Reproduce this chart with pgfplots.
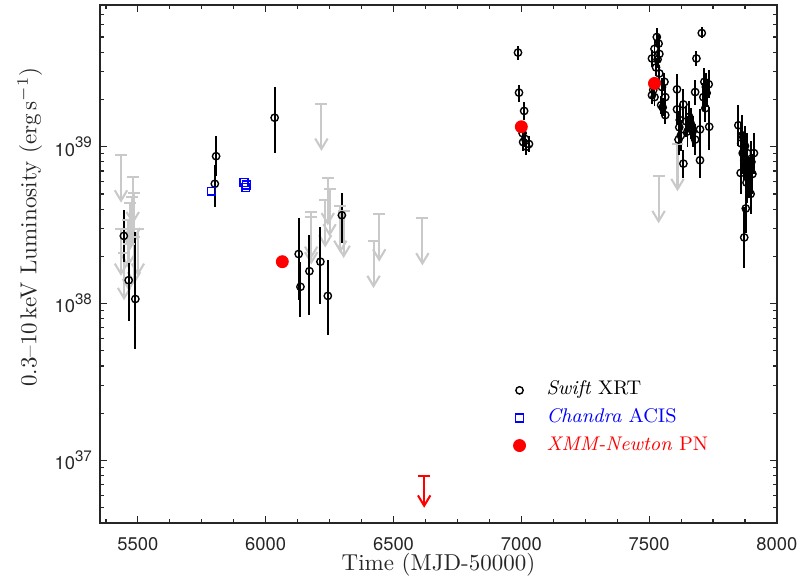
\documentclass[border=0pt]{standalone}
\usepackage{pgfplots}
\pgfplotsset{compat=1.18}
\usepackage{fontspec}
\newfontfamily\ticksf{TeX Gyre Heros}
\usetikzlibrary{arrows.meta}

\definecolor{axgray}{rgb}{0.15,0.15,0.15}
\definecolor{ulgray}{rgb}{0.79,0.79,0.79}

% 10^n in the MATLAB look
\newcommand{\tp}[1]{10\raisebox{3.6pt}{\fontsize{6.6}{7}\selectfont #1}}

\pgfplotsset{
  ulim/.style={forget plot, only marks, mark=-, mark size=2.6pt,
    mark options={#1, line width=0.9pt},
    error bars/.cd, y dir=minus, error mark=none,
    error bar style={#1, line width=0.9pt, -{Straight Barb[length=4.5pt,width=5.4pt]}}},
  legimg/.style={legend image code/.code={
    \path (0cm,0cm) (0.62cm,0cm);
    \draw[##1] plot coordinates {(0.25cm,0cm)};}},
}

\begin{document}
\begin{tikzpicture}
\begin{axis}[
  scale only axis, width=294.3pt, height=225.2pt,
  ymode=log,
  xmin=5352, xmax=8000, ymin=4e36, ymax=8e39,
  axis line style={axgray, line width=0.65pt},
  tick style={axgray, line width=0.5pt},
  tick align=inside,
  major tick length=3pt, minor tick length=1.7pt,
  xtick={5500,6000,6500,7000,7500,8000},
  xticklabels={5500,6000,6500,7000,7500,8000},
  minor xtick={5375,5625,5750,5875,6125,6250,6375,6625,6750,6875,7125,7250,7375,7625,7750,7875},
  ytick={1e37,1e38,1e39},
  yticklabels={\tp{37},\tp{38},\tp{39}},
  minor ytick={5e36,6e36,7e36,8e36,9e36,2e37,3e37,4e37,5e37,6e37,7e37,8e37,9e37,
    2e38,3e38,4e38,5e38,6e38,7e38,8e38,9e38,2e39,3e39,4e39,5e39,6e39,7e39},
  ticklabel style={font=\ticksf\fontsize{8}{9}\selectfont, text=axgray},
  xticklabel style={yshift=-2.8pt},
  xlabel={Time (MJD-50000)},
  ylabel={0.3--10\,keV Luminosity (erg\,s$^{-1}$)},
  label style={text=axgray, inner sep=0pt},
  xlabel style={at={(rel axis cs:0.5,-0.058)}, anchor=north},
  ylabel style={at={(rel axis cs:-0.085,0.571)}, anchor=south},
  legend cell align=left,
  legend style={at={(rel axis cs:0.584,0.288)}, anchor=north west, draw=none, fill=none,
    font=\fontsize{8.6}{10}\selectfont, row sep=2pt,
    nodes={inner sep=1pt, text height=6pt, text depth=2pt}},
]

% Swift upper limits (grey arrows)
\addplot[error bars/y fixed relative=0.5, ulim=ulgray] table {
x y
5434 8.8e38
5480 6.4e38
5485 5.06e38
5476 4.8e38
5470 4.4e38
5461 3.4e38
5434 3.0e38
5500 3.0e38
5485 2.65e38
5465 2.4e38
5446 2.1e38
6218 1.88e39
6243 6.3e38
6250 5.35e38
6233 4.56e38
6178 3.85e38
6178 3.55e38
6292 4.2e38
6305 3.9e38
6444 3.7e38
6422 2.51e38
6613 3.5e38
7611 1.04e39
7537 6.5e38
};

% Swift XRT detections
\addplot[only marks, legimg, mark=o, mark size=1.6pt,
  mark options={line width=0.6pt, draw=black, fill=none},
  error bars/.cd, y dir=both, y explicit, error mark=none,
  error bar style={black, line width=0.85pt}]
  table[x=x, y=y, y error plus=ep, y error minus=em] {
x y ep em
5445 2.70e38 1.25e38 0.86e38
5464 1.41e38 0.41e38 0.64e38
5490 1.07e38 1.78e38 0.56e38
5806 8.70e38 3.0e38 2.2e38
5801 5.80e38 1.8e38 1.7e38
6035 1.53e39 0.87e39 0.62e39
6129 2.07e38 1.43e38 1.02e38
6136 1.28e38 0.56e38 0.46e38
6171 1.61e38 1.12e38 0.77e38
6214 1.85e38 1.22e38 0.86e38
6243 1.12e38 0.77e38 0.49e38
6298 3.66e38 1.40e38 1.23e38
6987 3.98e39 0.39e39 0.39e39
6991 2.21e39 0.26e39 0.28e39
7011 1.69e39 0.24e39 0.21e39
7005 1.22e39 0.15e39 0.13e39
7007 1.07e39 0.15e39 0.13e39
7015 1.12e39 0.14e39 0.12e39
7020 1.00e39 0.12e39 0.11e39
7030 1.04e39 0.13e39 0.12e39
7530 5.00e39 0.70e39 0.60e39
7537 4.54e39 0.64e39 0.54e39
7521 4.20e39 0.59e39 0.50e39
7540 3.90e39 0.55e39 0.47e39
7511 3.65e39 0.51e39 0.44e39
7533 3.60e39 0.50e39 0.43e39
7527 3.20e39 0.45e39 0.38e39
7540 2.93e39 0.41e39 0.35e39
7560 2.59e39 0.36e39 0.31e39
7550 2.40e39 0.34e39 0.29e39
7516 2.30e39 0.32e39 0.28e39
7511 2.13e39 0.30e39 0.26e39
7521 2.07e39 0.29e39 0.25e39
7563 2.07e39 0.29e39 0.25e39
7547 1.84e39 0.26e39 0.22e39
7553 1.78e39 0.25e39 0.21e39
7563 1.59e39 0.22e39 0.19e39
7609 2.32e39 0.60e39 0.46e39
7609 1.73e39 0.45e39 0.35e39
7634 1.86e39 0.48e39 0.37e39
7620 1.48e39 0.38e39 0.30e39
7618 1.33e39 0.35e39 0.27e39
7624 1.18e39 0.31e39 0.24e39
7615 1.11e39 0.29e39 0.22e39
7634 7.80e38 1.70e38 1.50e38
7645 1.45e39 0.38e39 0.29e39
7650 1.25e39 0.33e39 0.25e39
7657 1.55e39 0.40e39 0.31e39
7663 1.40e39 0.36e39 0.28e39
7670 1.25e39 0.33e39 0.25e39
7680 1.11e39 0.29e39 0.22e39
7685 3.65e39 0.40e39 0.36e39
7706 5.30e39 0.45e39 0.40e39
7680 2.23e39 0.45e39 0.38e39
7699 1.29e39 0.45e39 0.33e39
7699 8.20e38 2.30e38 1.90e38
7716 2.59e39 0.60e39 0.48e39
7722 2.40e39 0.56e39 0.45e39
7712 2.07e39 0.48e39 0.39e39
7720 1.76e39 0.41e39 0.33e39
7733 2.50e39 0.58e39 0.47e39
7735 1.34e39 0.46e39 0.39e39
7725 2.20e39 0.51e39 0.41e39
7849 1.37e39 0.48e39 0.36e39
7860 1.05e39 0.37e39 0.27e39
7865 1.18e39 0.41e39 0.31e39
7875 1.01e39 0.35e39 0.26e39
7858 6.80e38 2.60e38 1.80e38
7872 8.20e38 2.90e38 2.10e38
7884 9.10e38 3.20e38 2.40e38
7878 7.40e38 2.60e38 1.90e38
7891 6.40e38 2.20e38 1.70e38
7910 9.10e38 3.20e38 2.40e38
7904 6.70e38 2.30e38 1.70e38
7881 5.90e38 2.10e38 1.50e38
7878 4.04e38 2.10e38 1.24e38
7872 2.64e38 1.50e38 0.96e38
7866 9.10e38 3.20e38 2.40e38
7897 5.00e38 1.80e38 1.30e38
7900 8.00e38 2.80e38 2.10e38
};
\addlegendentry{\textit{Swift} XRT}

% Chandra ACIS
\addplot[only marks, legimg, mark=square, mark size=1.7pt,
  mark options={blue, line width=0.6pt, fill=none}] table {
x y
5788 5.2e38
5915 5.9e38
5925 5.7e38
5922 5.5e38
};
\addlegendentry{\textcolor{blue}{\textit{Chandra} ACIS}}

% XMM-Newton PN
\addplot[only marks, legimg, mark=*, mark size=2.6pt,
  mark options={red, fill=red, draw=red}] table {
x y
6065 1.85e38
7000 1.34e39
7521 2.53e39
};
\addlegendentry{\textcolor{red}{\textit{XMM-Newton} PN}}

% XMM-Newton upper limit
\addplot[error bars/y explicit, ulim=red] table[x=x, y=y, y error minus=em] {
x y em
6620 7.96e36 2.96e36
};

\end{axis}
\pgfresetboundingbox
\path[use as bounding box] ([xshift=-43.5pt,yshift=-25.2pt]current axis.south west)
  rectangle ([xshift=12.2pt,yshift=2.2pt]current axis.north east);
\end{tikzpicture}
\end{document}
